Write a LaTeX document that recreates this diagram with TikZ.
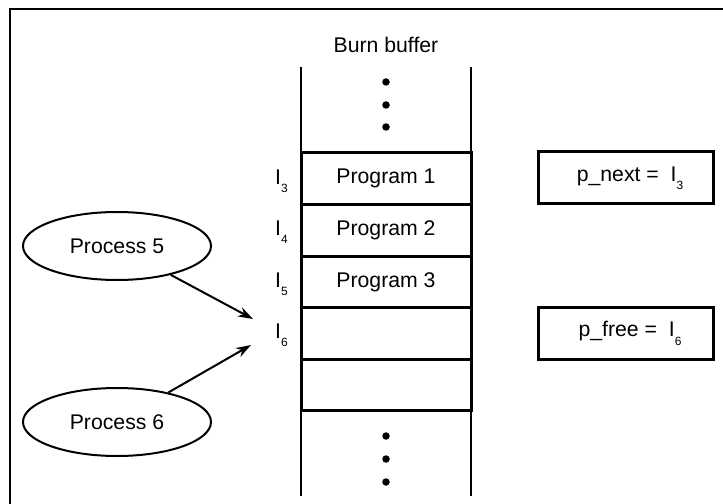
\documentclass[tikz,border=0pt]{standalone}
\usepackage{fontspec}
\setmainfont{Liberation Sans}
\usetikzlibrary{shapes.geometric,arrows.meta}
\newcommand{\idx}[1]{I\raisebox{-8.3bp}{\fontsize{12}{12}\selectfont #1}}
\begin{document}
\begin{tikzpicture}[x=1bp,y=-1bp,
  txt/.style={font=\fontsize{21.3}{24}\selectfont, inner sep=0pt},
  cell/.style={draw, line width=3bp, minimum width=170bp, minimum height=51.5bp, inner sep=0pt, font=\fontsize{21.3}{24}\selectfont},
  proc/.style={draw, ellipse, line width=2bp, minimum width=188bp, minimum height=68bp, inner sep=0pt, font=\fontsize{21.3}{24}\selectfont},
  ptrbox/.style={draw, line width=3bp, minimum width=175bp, minimum height=52bp, inner sep=0pt, font=\fontsize{21.3}{24}\selectfont},
  lbl/.style={font=\fontsize{21.3}{24}\selectfont, inner sep=0pt, anchor=west},
  dot/.style={circle, fill, inner sep=0pt, minimum size=7.5bp},
  arr/.style={-{Stealth[length=15bp,width=10bp]}, line width=2bp}]
\useasboundingbox (0,0) rectangle (723,504);
% frame
\draw[line width=1.5bp] (10,504) -- (10,9) -- (723,9);
% title
\node[txt] (title) at (386,45) {Burn buffer};
% buffer walls
\coordinate (wl1) at (301,67); \coordinate (wl2) at (301,496);
\coordinate (wr1) at (471,67); \coordinate (wr2) at (471,496);
\draw[line width=2.8bp] (wl1) -- (wl2);
\draw[line width=2.8bp] (wr1) -- (wr2);
% cells
\node[cell] (c1) at (386,178.5) {Program 1};
\node[cell] (c2) at (386,230.5) {Program 2};
\node[cell] (c3) at (386,282) {Program 3};
\node[cell] (c4) at (386,333.5) {};
\node[cell] (c5) at (386,385) {};
% dots
\node[dot] (d1) at (386,82) {};
\node[dot] (d2) at (386,105) {};
\node[dot] (d3) at (386,127) {};
\node[dot] (d4) at (386,436) {};
\node[dot] (d5) at (386,459) {};
\node[dot] (d6) at (386,482) {};
% index labels
\node[lbl] (i3) at (275,181) {\idx{3}};
\node[lbl] (i4) at (275,232) {\idx{4}};
\node[lbl] (i5) at (275,284) {\idx{5}};
\node[lbl] (i6) at (275,335) {\idx{6}};
% processes
\node[proc] (p5) at (117,246) {Process 5};
\node[proc] (p6) at (117,422) {Process 6};
\coordinate (t5) at (253,319);
\coordinate (t6) at (251,345);
\draw[arr] (p5) -- (t5);
\draw[arr] (p6) -- (t6);
% pointer boxes
\node[ptrbox] (pn) at (626,178) {\hspace*{8bp}p\_next =\ \ \idx{3}};
\node[ptrbox] (pf) at (626,333.5) {\hspace*{8bp}p\_free =\ \ \idx{6}};
\end{tikzpicture}
\end{document}
